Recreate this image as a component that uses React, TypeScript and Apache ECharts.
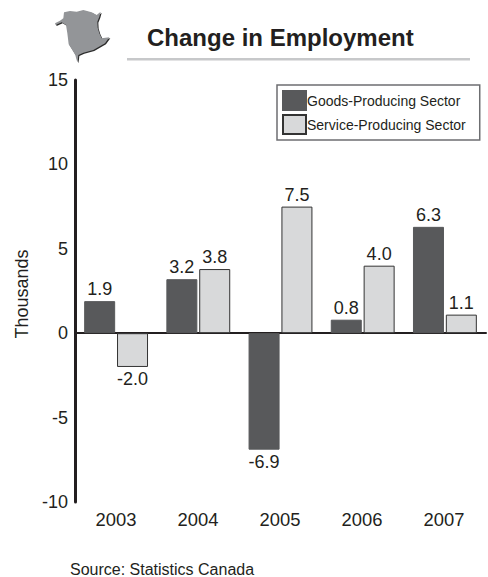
import React, { useEffect, useRef } from "react";
import * as echarts from "echarts";

const categories = ["2003", "2004", "2005", "2006", "2007"];
const goodsValues = [1.9, 3.2, -6.9, 0.8, 6.3];
const serviceValues = [-2.0, 3.8, 7.5, 4.0, 1.1];
const FONT = "'Liberation Sans', Arial, sans-serif";
const INK = "#231f20";

const mapZoomPoints = [
  [15, 55], [30, 47], [40, 40], [42, 22], [60, 18], [80, 20], [100, 15], [125, 22], [140, 30], [152, 20],
  [148, 35], [142, 50], [143, 68], [148, 85], [155, 100], [178, 97], [165, 115], [130, 135], [100, 143], [85, 150],
  [84, 160], [82, 172], [78, 158], [76, 150], [65, 132], [56, 118], [52, 85], [48, 60], [35, 52], [17, 60],
];
const mapPoints = mapZoomPoints.map(([x, y]) => [x / 3 + 50, y / 3 + 5]);

export default function App() {
  const ref = useRef<HTMLDivElement>(null);
  useEffect(() => {
    const chart = echarts.init(ref.current!, null, { renderer: "svg" });
    const labelStyle = { show: true, position: "outside" as const, fontFamily: FONT, fontSize: 18, color: INK, distance: 3,
      formatter: (p: any) => Number(p.value).toFixed(1) };
    chart.setOption({
      animation: false,
      backgroundColor: "#ffffff",
      textStyle: { fontFamily: FONT },
      grid: { left: 75, right: 2, top: 80, bottom: 75, containLabel: false },
      legend: {
        show: true, orient: "vertical", left: 277, top: 85,
        backgroundColor: "#ffffff", borderColor: "#6d6e71", borderWidth: 1.5, borderRadius: 0,
        padding: [5, 14, 5, 5], itemWidth: 23, itemHeight: 19, itemGap: 3, icon: "rect",
        textStyle: { fontFamily: FONT, fontSize: 14, color: INK, padding: [0, 0, 0, -4] },
        data: ["Goods-Producing Sector", "Service-Producing Sector"],
      },
      xAxis: {
        type: "category", data: categories,
        axisLine: { onZero: true, lineStyle: { color: INK, width: 2 } },
        axisTick: { show: false },
        axisLabel: { show: false },
      },
      yAxis: {
        type: "value", min: -10, max: 15, interval: 5,
        name: "Thousands", nameLocation: "middle", nameRotate: 90, nameGap: 41,
        nameTextStyle: { fontFamily: FONT, fontSize: 18, color: INK, padding: [0, 6, 0, 0] },
        axisLine: { show: true, onZero: false, lineStyle: { color: INK, width: 3 } },
        axisTick: { show: false },
        splitLine: { show: false },
        axisLabel: { fontFamily: FONT, fontSize: 18, color: INK, margin: 7 },
      },
      series: [
        { name: "Goods-Producing Sector", type: "bar", data: goodsValues, barWidth: 31, barGap: "6%",
          itemStyle: { color: "#58595b", borderColor: "#58595b", borderWidth: 1 }, label: labelStyle },
        { name: "Service-Producing Sector", type: "bar", data: serviceValues, barWidth: 31, barGap: "6%",
          itemStyle: { color: "#d8d9da", borderColor: "#333333", borderWidth: 1 }, label: labelStyle },
      ],
      graphic: [
        { type: "polygon", shape: { points: mapPoints.map(([x, y]) => [x + 1, y + 1]) }, style: { fill: "#2b2b2b" } },
        { type: "polygon", shape: { points: mapPoints }, style: { fill: "#939598" } },
        { type: "text", x: 147, y: 25, style: { text: "Change in Employment", font: `bold 24px ${FONT}`, fill: INK } },
        { type: "rect", shape: { x: 127, y: 58, width: 343, height: 2.5 }, style: { fill: "#c7c8ca" } },
        ...categories.map((c, i) => ({ type: "text", x: 116 + i * 82, y: 510, style: { text: c, font: `18.4px ${FONT}`, fill: INK, textAlign: "center" } })),
        { type: "text", x: 70, y: 561, style: { text: "Source: Statistics Canada", font: `16px ${FONT}`, fill: INK } },
      ],
    });
    return () => chart.dispose();
  }, []);
  return <div ref={ref} style={{ position: "fixed", left: 0, top: 0, width: 488, height: 577 }} />;
}
